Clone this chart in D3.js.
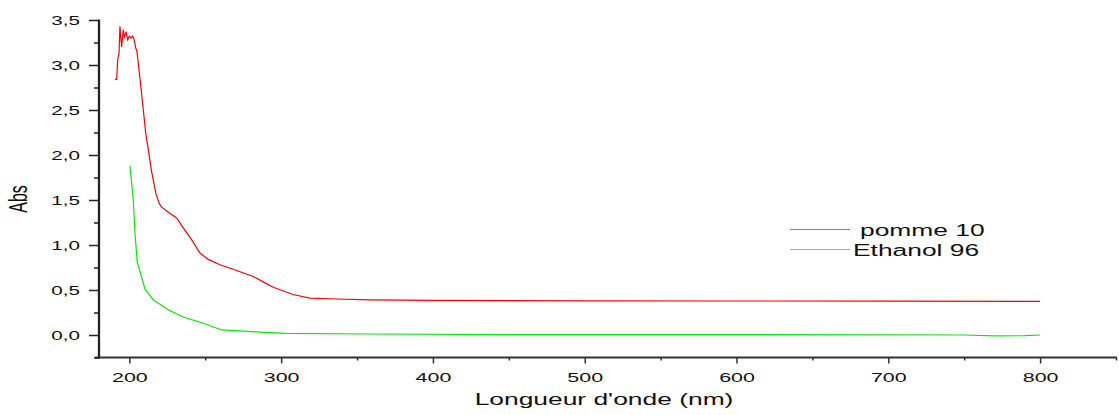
<!DOCTYPE html>
<html>
<head>
<meta charset="utf-8">
<script src="https://cdn.jsdelivr.net/npm/d3@7"></script>
<style>
  body { margin: 0; background: #fff; }
  svg { display: block; font-family: "Liberation Sans", Arial, sans-serif; }
</style>
</head>
<body>
<svg id="chart" width="1119" height="415"></svg>
<script>
// pomme 10 (red)
var pommeWl = [190.5, 191.7, 192.3, 193.2, 193.8, 194.9, 196.0, 196.7, 197.8, 198.9, 200.0, 201.1, 202.2, 203.2, 204.2, 205.0,
  207.0, 209.2, 210.8, 212.5, 214.5, 217.5, 219.7, 221.3, 226.8, 231.2, 235.5, 241.0, 246.5, 252.0, 259.7, 268.4,
  281.6, 288.2, 294.8, 307.9, 318.9, 336.5, 358.5, 400, 500, 600, 700, 800];
var pommeAbs = [2.84, 2.84, 3.06, 3.13, 3.43, 3.20, 3.39, 3.30, 3.37, 3.28, 3.32, 3.30, 3.32, 3.28, 3.19, 3.15,
  2.85, 2.50, 2.24, 2.06, 1.83, 1.57, 1.46, 1.42, 1.35, 1.30, 1.19, 1.06, 0.91, 0.84, 0.78, 0.73,
  0.65, 0.59, 0.53, 0.45, 0.41, 0.40, 0.39, 0.385, 0.38, 0.378, 0.376, 0.374];

// Ethanol 96 (green)
var ethWl = [200.4, 202.6, 203.7, 205.2, 210.3, 215.8, 225.6, 235.5, 248.7, 260.8, 286.0, 303.6, 358.5, 450, 600, 700, 750, 770, 790, 800];
var ethAbs = [1.88, 1.50, 1.13, 0.81, 0.51, 0.39, 0.28, 0.20, 0.13, 0.056, 0.033, 0.018, 0.011, 0.005, 0.004, 0.003, 0.0, -0.01, -0.008, 0.0];

var xMajor = [200, 300, 400, 500, 600, 700, 800];
var xMinor = [250, 350, 450, 550, 650, 750, 850];
var yMajor = [0, 0.5, 1.0, 1.5, 2.0, 2.5, 3.0, 3.5];
var yMinor = [-0.25, 0.25, 0.75, 1.25, 1.75, 2.25, 2.75, 3.25];

var seriesNames = ["pomme 10", "Ethanol 96"];
var seriesColors = ["#ff0000", "#00f000"];

var sx = 1.65; // original picture is stretched horizontally
var pL = 99, pR = 1116, pT = 20, pB = 357.5;

var svg = d3.select("#chart");
var x = d3.scaleLinear().domain([180, 850]).range([pL, pR]);
var y = d3.scaleLinear().domain([-0.25, 3.5]).range([pB, pT]);
var fmt = function(d) { return d3.format(".1f")(d).replace(".", ","); };

// x axis
var gx = svg.append("g").attr("transform", "translate(0," + pB + ")");
gx.append("g").call(d3.axisBottom(x).tickValues(xMinor).tickSize(3).tickFormat(""));
gx.append("g").call(d3.axisBottom(x).tickValues(xMajor).tickSize(6).tickFormat(d3.format("d")).tickPadding(9));
gx.selectAll(".domain").remove();
gx.append("line").attr("x1", pL - 4).attr("x2", pR + 1).attr("stroke", "#333").attr("stroke-width", 2);
gx.selectAll(".tick line").attr("stroke", "#333").attr("stroke-width", 1.5);
gx.selectAll(".tick text").attr("font-size", 13).attr("fill", "#111")
  .attr("font-family", "'Liberation Sans', Arial, sans-serif")
  .attr("transform", "scale(" + sx + ",1)");

// y axis
var gy = svg.append("g").attr("transform", "translate(" + pL + ",0)");
gy.append("g").call(d3.axisLeft(y).tickValues(yMinor).tickSize(5).tickFormat(""));
gy.append("g").call(d3.axisLeft(y).tickValues(yMajor).tickSize(10).tickFormat(fmt));
gy.selectAll(".domain").remove();
gy.append("line").attr("y1", pT - 0.5).attr("y2", pB + 1).attr("stroke", "#222").attr("stroke-width", 2.3);
gy.selectAll(".tick line").attr("stroke", "#222").attr("stroke-width", 1.5);
gy.selectAll(".tick text").attr("font-size", 12.5).attr("fill", "#111")
  .attr("font-family", "'Liberation Sans', Arial, sans-serif")
  .attr("x", -19 / sx)
  .attr("transform", "scale(" + sx + ",1)");

// lines
var line = d3.line().x(function(d) { return x(d[0]); }).y(function(d) { return y(d[1]); });
svg.append("path")
  .datum(d3.zip(pommeWl, pommeAbs))
  .attr("d", line).attr("fill", "none").attr("stroke", seriesColors[0]).attr("stroke-width", 1.2);
svg.append("path")
  .datum(d3.zip(ethWl, ethAbs))
  .attr("d", line).attr("fill", "none").attr("stroke", seriesColors[1]).attr("stroke-width", 1.2);

// axis titles
svg.append("text")
  .attr("transform", "translate(604,405) scale(" + sx + ",1)")
  .attr("text-anchor", "middle").attr("font-size", 16).attr("fill", "#111")
  .text("Longueur d'onde (nm)");
svg.append("text")
  .attr("transform", "translate(27,199) scale(" + sx + ",1) rotate(-90)")
  .attr("text-anchor", "middle").attr("font-size", 16).attr("fill", "#111")
  .text("Abs");

// legend
var legend = svg.append("g");
var legX = [860, 853];
var legColors = ["#ff5050", "#50ee50"];
seriesNames.forEach(function(name, i) {
  var ly = 229.5 + i * 20;
  legend.append("line").attr("x1", 790).attr("x2", 850).attr("y1", ly).attr("y2", ly)
    .attr("stroke", legColors[i]).attr("stroke-width", 1);
  legend.append("text")
    .attr("transform", "translate(" + legX[i] + "," + (ly + 6) + ") scale(" + sx + ",1)")
    .attr("font-size", 16).attr("fill", "#111")
    .text(name);
});
</script>
</body>
</html>
